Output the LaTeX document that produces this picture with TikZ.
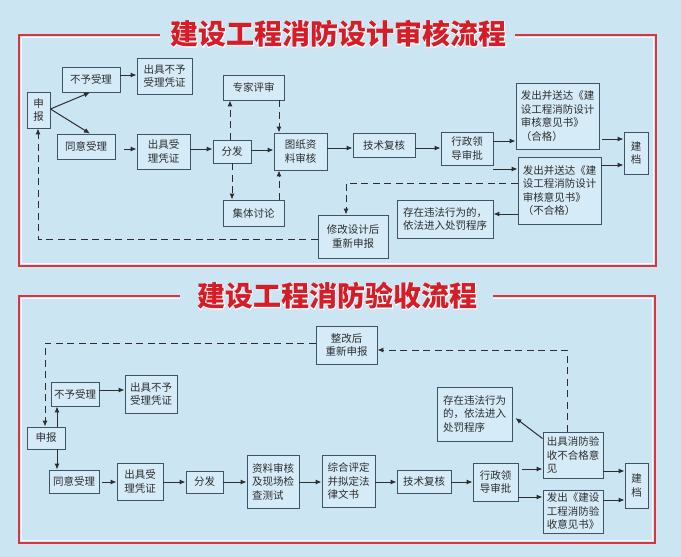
\documentclass[tikz,border=0pt]{standalone}
\usepackage{fontspec}
\newfontfamily\cjk{Noto Sans CJK SC}
\newfontfamily\cjkhalo[FakeBold=4,BoldFeatures={FakeBold=4}]{Noto Sans CJK SC}
\usetikzlibrary{arrows.meta,calc}
\definecolor{bgblue}{RGB}{204,229,243}
\definecolor{boxfill}{RGB}{213,235,248}
\definecolor{boxline}{RGB}{62,84,100}
\definecolor{txt}{RGB}{45,45,45}
\definecolor{framered}{RGB}{220,52,60}
\definecolor{titlered}{RGB}{214,28,38}
\begin{document}
\begin{tikzpicture}[x=1pt,y=-1pt,
  box/.style={draw=boxline,line width=0.9pt,fill=boxfill,inner sep=0pt,align=center,text=txt,
    font=\cjk\fontsize{10.5}{13.5}\selectfont},
  lbox/.style={box,align=left},
  arr/.style={draw=txt,line width=1pt,-{Latex[length=6pt,width=5pt]}},
  darr/.style={arr,dash pattern=on 7pt off 4.5pt},
  frame/.style={draw=framered,line width=1.5pt},
  frameinner/.style={draw=white,line width=0.6pt,opacity=0.8},
  ttl/.style={inner sep=0pt,text=titlered,font=\cjk\bfseries\fontsize{28}{28}\selectfont},
  ttlhalo/.style={inner sep=0pt,text=white,font=\cjkhalo\bfseries\fontsize{28}{28}\selectfont}]
\fill[bgblue] (0,0) rectangle (681,557);
\useasboundingbox (0,0) rectangle (681,557);

% ---------- frames ----------
\draw[frame] (160,35) -- (19,35) -- (19,266) -- (656,266) -- (656,35) -- (515,35);
\draw[frameinner] (160,37.5) -- (21.5,37.5) -- (21.5,263.5) -- (653.5,263.5) -- (653.5,37.5) -- (515,37.5);
\draw[frame] (180,296) -- (19,296) -- (19,543) -- (655,543) -- (655,296) -- (493,296);
\draw[frameinner] (180,298.5) -- (21.5,298.5) -- (21.5,540.5) -- (652.5,540.5) -- (652.5,298.5) -- (493,298.5);

% ---------- titles ----------
\node[ttlhalo] (title1halo) at (338.5,34) {建设工程消防设计审核流程};
\node[ttlhalo] (title2halo) at (337.5,296) {建设工程消防验收流程};
\node[ttl] (title1) at (338.5,34) {建设工程消防设计审核流程};
\node[ttl] (title2) at (337.5,296) {建设工程消防验收流程};

% ---------- section 1 nodes ----------
\node[box,minimum width=23,minimum height=36] (sb1) at (38.5,110) {申\\报};
\node[box,minimum width=58,minimum height=25] (bys1) at (91,79.5) {不予受理};
\node[box,minimum width=55,minimum height=36] (cjby1) at (164.5,76) {出具不予\\受理凭证};
\node[box,minimum width=58,minimum height=25] (ty1) at (86,146.5) {同意受理};
\node[box,minimum width=53,minimum height=35] (cjsl1) at (163.5,151.5) {出具受\\理凭证};
\node[box,minimum width=38,minimum height=23] (ff1) at (232,151.5) {分发};
\node[box,minimum width=61,minimum height=25] (zj) at (253.5,87.5) {专家评审};
\node[box,minimum width=61,minimum height=26] (jt) at (253.5,213) {集体讨论};
\node[box,minimum width=53,minimum height=37] (tz) at (300.5,151.5) {图纸资\\料审核};
\node[box,minimum width=62,minimum height=24] (js1) at (384,145) {技术复核};
\node[box,minimum width=52,minimum height=33] (xz1) at (467,148.5) {行政领\\导审批};
\node[lbox,minimum width=83,minimum height=66] (hg) at (557.5,116) {发出并送达《建\\设工程消防设计\\审核意见书》\\（合格）};
\node[lbox,minimum width=83,minimum height=67] (bhg) at (559.5,190.5) {发出并送达《建\\设工程消防设计\\审核意见书》\\（不合格）};
\node[box,minimum width=24,minimum height=42] (jd1) at (636,153) {建\\档};
\node[box,minimum width=96,minimum height=38] (wf1) at (445,219) {存在违法行为的，\\依法进入处罚程序};
\node[box,minimum width=70,minimum height=43] (xg) at (353,236.5) {修改设计后\\重新申报};

% ---------- section 1 connectors ----------
\draw[arr] (sb1.east |- 0,109) -- (bys1.south -| 90,0);
\draw[arr] (sb1.east |- 0,109) -- (ty1.north -| 90,0);
\draw[arr] (bys1.east |- 0,75) -- (cjby1.west |- 0,75);
\draw[arr,shorten <=9pt] (ty1.east |- 0,149) -- (cjsl1.west |- 0,149);
\draw[arr] (cjsl1.east |- 0,149) -- (ff1.west |- 0,149);
\draw[darr] (ff1.north -| 230,0) -- (zj.south -| 230,0);
\draw[darr] (ff1.south -| 232,0) -- (jt.north -| 232,0);
\draw[darr] (zj.south -| 279,0) -- (tz.north -| 279,0);
\draw[darr] (jt.north -| 279,0) -- (tz.south -| 279,0);
\draw[arr] (ff1.east |- 0,150) -- (tz.west |- 0,150);
\draw[arr] (tz.east |- 0,148) -- (js1.west |- 0,148);
\draw[arr] (js1.east |- 0,148) -- (xz1.west |- 0,148);
\draw[arr] (xz1.east |- 0,141) -- (hg.west |- 0,141);
\draw[arr] (xz1.east |- 0,169) -- (bhg.west |- 0,169);
\draw[arr] ($(hg.east |- 0,139)+(3,0)$) -- (jd1.west |- 0,139);
\draw[arr] (bhg.east |- 0,165) -- (jd1.west |- 0,165);
\draw[darr] (bhg.west |- 0,183) -- (346,183) -- (xg.north -| 346,0);
\draw[arr] (bhg.west |- 0,214) -- (wf1.east |- 0,214);
\draw[darr] (xg.west |- 0,239) -- (38,239) -- (sb1.south -| 38,0);

% ---------- section 2 nodes ----------
\node[box,minimum width=61,minimum height=38] (zg) at (346.5,345) {整改后\\重新申报};
\node[box,minimum width=38,minimum height=22] (sb2) at (46,438) {申报};
\node[box,minimum width=48,minimum height=24] (bys2) at (75,394) {不予受理};
\node[box,minimum width=52,minimum height=38] (cjby2) at (151,394) {出具不予\\受理凭证};
\node[box,minimum width=50,minimum height=23] (ty2) at (74,481.5) {同意受理};
\node[box,minimum width=46,minimum height=37] (cjsl2) at (140,481.5) {出具受\\理凭证};
\node[box,minimum width=37,minimum height=22] (ff2) at (204.5,482) {分发};
\node[lbox,minimum width=52,minimum height=53] (zl) at (273,481.5) {资料审核\\及现场检\\查测试};
\node[lbox,minimum width=53,minimum height=52] (zh) at (348.5,481) {综合评定\\并拟定法\\律文书};
\node[box,minimum width=54,minimum height=23] (js2) at (424,481.5) {技术复核};
\node[box,minimum width=45,minimum height=38] (xz2) at (495.5,482) {行政领\\导审批};
\node[lbox,minimum width=60,minimum height=46] (bhg2) at (573,455) {出具消防验\\收不合格意\\见};
\node[lbox,minimum width=60,minimum height=43] (fc) at (573,511.5) {发出《建设\\工程消防验\\收意见书》};
\node[box,minimum width=23,minimum height=45] (jd2) at (636.5,485.5) {建\\档};
\node[lbox,minimum width=75,minimum height=54] (wf2) at (474.5,414) {存在违法行为\\的，依法进入\\处罚程序};

% ---------- section 2 connectors ----------
\draw[darr] (bhg2.north -| 567,0) -- (567,350) -- (zg.east |- 0,350);
\draw[darr] (zg.west |- 0,343) -- (45,343) -- (sb2.north -| 45,0);
\draw[arr] (sb2.north -| 57,0) -- (bys2.south -| 57,0);
\draw[arr] (sb2.south -| 57,0) -- (ty2.north -| 57,0);
\draw[arr] (bys2.east |- 0,390) -- (cjby2.west |- 0,390);
\draw[arr,shorten <=3pt] (ty2.east |- 0,482) -- (cjsl2.west |- 0,482);
\draw[arr] (cjsl2.east |- 0,482) -- (ff2.west |- 0,482);
\draw[arr] (ff2.east |- 0,482) -- (zl.west |- 0,482);
\draw[arr] (zl.east |- 0,482) -- (zh.west |- 0,482);
\draw[arr] (zh.east |- 0,482) -- (js2.west |- 0,482);
\draw[arr] (js2.east |- 0,482) -- (xz2.west |- 0,482);
\draw[arr,shorten <=4pt] (xz2.east |- 0,469) -- (bhg2.west |- 0,469);
\draw[arr] (xz2.east |- 0,497) -- (fc.west |- 0,497);
\draw[arr] (bhg2.east |- 0,471) -- (jd2.west |- 0,471);
\draw[arr] (fc.east |- 0,500) -- (jd2.west |- 0,500);
\draw[arr] ($(bhg2.north west)+(0,7)$) -- ($(wf2.east |- 0,418)+(3,0)$);
\end{tikzpicture}
\end{document}
